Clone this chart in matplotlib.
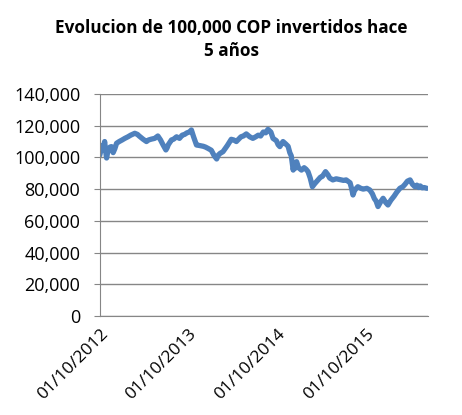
import pandas as pd
import matplotlib
matplotlib.use("Agg")
import matplotlib.pyplot as plt
import matplotlib.dates as mdates
from matplotlib.ticker import FuncFormatter

plt.rcParams["font.family"] = ["Open Sans", "DejaVu Sans"]

# valores (aprox.)
fechas = ["2012-10-01", "2012-10-05", "2012-10-10", "2012-10-14", "2012-10-18", "2012-10-21",
          "2012-10-25", "2012-10-29", "2012-11-02", "2012-11-05", "2012-11-12", "2012-11-18",
          "2012-11-22", "2012-11-25", "2012-12-02", "2012-12-09", "2012-12-20", "2013-01-01",
          "2013-01-12", "2013-01-25", "2013-02-05", "2013-02-22", "2013-03-05", "2013-03-12",
          "2013-03-28", "2013-04-11", "2013-04-20", "2013-05-01", "2013-05-15", "2013-05-28",
          "2013-06-08", "2013-06-18", "2013-06-30", "2013-07-05", "2013-07-10", "2013-07-23",
          "2013-08-01", "2013-08-13", "2013-08-25", "2013-09-05", "2013-09-15", "2013-09-25",
          "2013-10-05", "2013-10-13", "2013-10-22", "2013-11-03", "2013-11-15", "2013-12-01",
          "2013-12-10", "2013-12-20", "2014-01-03", "2014-01-15", "2014-01-25", "2014-02-01",
          "2014-02-08", "2014-02-20", "2014-03-01", "2014-03-10", "2014-03-26", "2014-04-05",
          "2014-04-16", "2014-05-05", "2014-05-15", "2014-05-27", "2014-06-10", "2014-06-23",
          "2014-07-05", "2014-07-15", "2014-07-25", "2014-08-05", "2014-08-15", "2014-08-24",
          "2014-09-05", "2014-09-14", "2014-09-28", "2014-10-05", "2014-10-12", "2014-10-25",
          "2014-11-05", "2014-11-15", "2014-11-22", "2014-11-28", "2014-12-06", "2014-12-10",
          "2014-12-13", "2014-12-16", "2014-12-20", "2014-12-28", "2015-01-09", "2015-01-20",
          "2015-01-28", "2015-02-05", "2015-02-14", "2015-02-23", "2015-03-05", "2015-03-18",
          "2015-03-28", "2015-04-05", "2015-04-18", "2015-04-28", "2015-05-05", "2015-05-18",
          "2015-06-01", "2015-06-15", "2015-07-01", "2015-07-12", "2015-07-28", "2015-08-04",
          "2015-08-09", "2015-08-15", "2015-08-20", "2015-08-29", "2015-09-10", "2015-09-20",
          "2015-10-05", "2015-10-17", "2015-10-28", "2015-11-05", "2015-11-12", "2015-11-20",
          "2015-12-01", "2015-12-11", "2015-12-22", "2015-12-31", "2016-01-12", "2016-01-25",
          "2016-02-05", "2016-02-18", "2016-03-01", "2016-03-10", "2016-03-20", "2016-03-31",
          "2016-04-10", "2016-04-20", "2016-04-28", "2016-05-05", "2016-05-12", "2016-05-20",
          "2016-05-28", "2016-06-08"]
valores = [101500, 104000, 107500, 104500, 108000, 110000,
           104000, 99600, 103000, 104500, 106500, 106800,
           104000, 103000, 105500, 108900, 110000, 111000,
           112000, 113000, 114000, 115200, 114500, 113500,
           111500, 110000, 111000, 111500, 112000, 113500,
           111000, 108000, 104700, 106000, 108000, 111000,
           111500, 113000, 112000, 114000, 114500, 115500,
           116000, 117300, 113000, 107800, 107500, 107000,
           106500, 105700, 104500, 101000, 99000, 101500,
           102500, 103600, 105500, 107500, 111400, 111000,
           110000, 113000, 113500, 114800, 113000, 112000,
           113000, 114000, 113500, 116000, 115500, 117700,
           116000, 112000, 110500, 108000, 106800, 110000,
           108500, 107000, 103000, 101000, 92000, 96000,
           93000, 96500, 97300, 93500, 92000, 93500,
           92500, 91000, 87000, 81500, 83500, 85800,
           87500, 88000, 91000, 89000, 87000, 85800,
           86500, 86000, 85500, 85800, 84000, 80000,
           76300, 79000, 80000, 81500, 80500, 80000,
           80500, 79500, 77000, 74000, 72500, 69000,
           72000, 74200, 71500, 70000, 73000, 75500,
           78000, 80500, 81500, 83000, 85000, 85800,
           83000, 81500, 82500, 81000, 82000, 80800,
           81000, 80500]

serie = pd.Series(valores, index=pd.to_datetime(fechas))
ticks = pd.to_datetime(["2012-10-01", "2013-10-01", "2014-10-01", "2015-10-01"])

fig = plt.figure(figsize=(4.62, 4.15), dpi=100)
ax = fig.add_axes([0.216, 0.2386, 0.71, 0.535])

ax.plot(serie.index, serie.values, color="#4F81BD", lw=3.8, solid_joinstyle="round",
        solid_capstyle="round")

ax.set_ylim(0, 140000)
ax.set_yticks(range(0, 140001, 20000))
ax.yaxis.set_major_formatter(FuncFormatter(lambda v, p: f"{int(v):,}"))
ax.set_xlim(pd.Timestamp("2012-10-01"), pd.Timestamp("2016-06-12"))
ax.set_xticks(ticks)
ax.xaxis.set_major_formatter(mdates.DateFormatter("%d/%m/%Y"))
plt.setp(ax.get_xticklabels(), rotation=45, ha="right", rotation_mode="anchor")

ax.grid(axis="y", color="#868686", lw=1)
ax.set_axisbelow(True)
for s in ["top", "right"]:
    ax.spines[s].set_visible(False)
for s in ["left", "bottom"]:
    ax.spines[s].set_color("#868686")
ax.tick_params(axis="y", length=4, color="#868686", labelsize=13, pad=10)
ax.tick_params(axis="x", length=0, labelsize=12.5, pad=7)

fig.suptitle("Evolucion de 100,000 COP invertidos hace\n5 años", x=0.5, y=0.955,
             fontsize=12.3, fontweight="bold", linespacing=1.35)

fig.savefig("out.png", dpi=100)
